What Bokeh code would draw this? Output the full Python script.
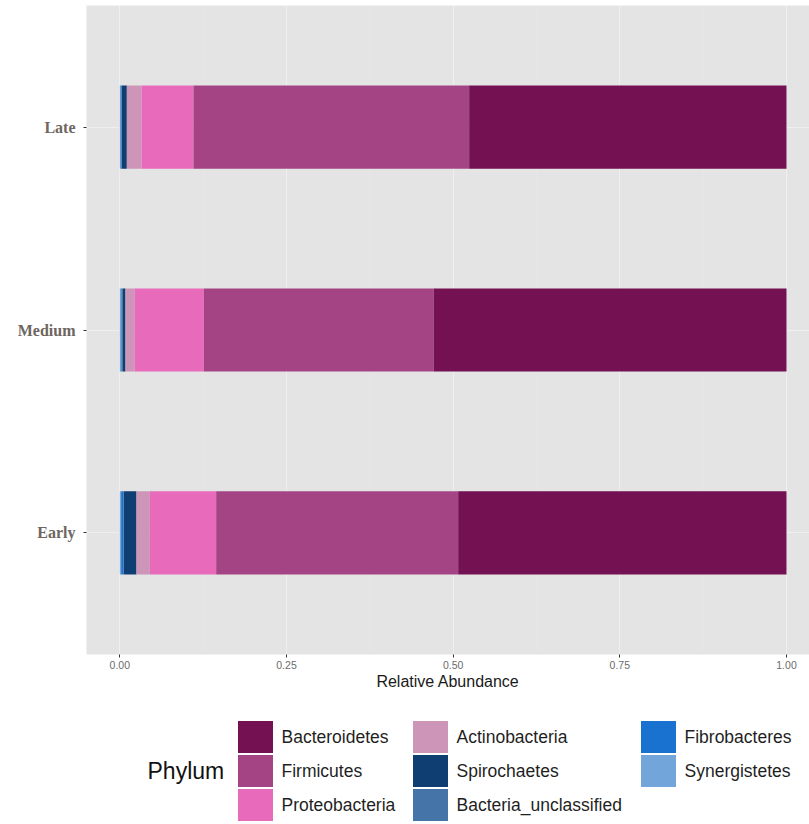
from bokeh.plotting import figure
from bokeh.layouts import column
from bokeh.models import Range1d, FixedTicker, ColumnDataSource
from bokeh.core.properties import value
from bokeh.embed import file_html
from bokeh.resources import INLINE

# ---- data ----
stages = ["Early", "Medium", "Late"]
phyla = ["Bacteroidetes", "Firmicutes", "Proteobacteria", "Actinobacteria",
         "Spirochaetes", "Bacteria_unclassified", "Fibrobacteres", "Synergistetes"]
colors = ["#741152", "#a54484", "#e86abb", "#cd95b8",
          "#0f3e73", "#4474a8", "#1a72d0", "#72a6da"]

Bacteroidetes = [0.4925, 0.5290, 0.4760]
Firmicutes = [0.3630, 0.3450, 0.4135]
Proteobacteria = [0.0995, 0.1040, 0.0780]
Actinobacteria = [0.0200, 0.0135, 0.0220]
Spirochaetes = [0.0190, 0.0045, 0.0075]
Bacteria_unclassified = [0.0010, 0.0015, 0.0010]
Fibrobacteres = [0.0030, 0.0010, 0.0010]
Synergistetes = [0.0020, 0.0015, 0.0010]

series = {
    "Bacteroidetes": Bacteroidetes, "Firmicutes": Firmicutes,
    "Proteobacteria": Proteobacteria, "Actinobacteria": Actinobacteria,
    "Spirochaetes": Spirochaetes, "Bacteria_unclassified": Bacteria_unclassified,
    "Fibrobacteres": Fibrobacteres, "Synergistetes": Synergistetes,
}

ypos = [i + 1 for i in range(len(stages))]

p = figure(width=809, height=692, output_backend="svg", toolbar_location=None,
           x_range=Range1d(-0.05, 1.0345), y_range=Range1d(0.4, 3.6),
           min_border_left=86, min_border_top=5, min_border_right=0, min_border_bottom=38)
p.background_fill_color = "#e4e4e4"
p.border_fill_color = "white"
p.outline_line_color = None

# stack: last phylum at 0, first phylum at the far right (ggplot order)
src = ColumnDataSource(dict(y=ypos, **series))
stack_order = phyla[::-1]
color_for = dict(zip(phyla, colors))
p.hbar_stack(stack_order, y="y", height=0.41, source=src,
             color=[color_for[k] for k in stack_order], line_width=0)

# grid
p.xgrid.ticker = FixedTicker(ticks=[0, 0.25, 0.5, 0.75, 1.0],
                             minor_ticks=[0.125, 0.375, 0.625, 0.875])
p.xgrid.grid_line_color = "#efefef"
p.xgrid.grid_line_width = 1
p.xgrid.minor_grid_line_color = "#e9e9e9"
p.xgrid.minor_grid_line_width = 0.5
p.ygrid.ticker = FixedTicker(ticks=ypos)
p.ygrid.grid_line_color = "#efefef"
p.ygrid.grid_line_width = 1

# x axis
p.xaxis.ticker = FixedTicker(ticks=[0, 0.25, 0.5, 0.75, 1.0])
p.xaxis.major_label_overrides = {0: "0.00", 0.25: "0.25", 0.5: "0.50", 0.75: "0.75", 1.0: "1.00"}
p.xaxis.axis_label = "Relative Abundance"
p.xaxis.axis_label_text_font = "Liberation Sans"
p.xaxis.axis_label_text_font_style = "normal"
p.xaxis.axis_label_text_font_size = "16px"
p.xaxis.axis_label_text_color = "#1a1a1a"
p.xaxis.axis_label_standoff = 1
p.xaxis.major_label_text_font = "Liberation Sans"
p.xaxis.major_label_text_font_size = "10.5px"
p.xaxis.major_label_text_color = "#6b6b6b"
p.xaxis.major_label_standoff = 3
p.xaxis.axis_line_color = None
p.xaxis.major_tick_line_color = "#333333"
p.xaxis.major_tick_out = 3
p.xaxis.major_tick_in = 0
p.xaxis.minor_tick_line_color = None

# y axis
p.yaxis.ticker = FixedTicker(ticks=ypos)
p.yaxis.major_label_overrides = {y: s for y, s in zip(ypos, stages)}
p.yaxis.major_label_text_font = "Liberation Serif"
p.yaxis.major_label_text_font_style = "bold"
p.yaxis.major_label_text_font_size = "16px"
p.yaxis.major_label_text_color = "#6e6660"
p.yaxis.major_label_standoff = 8
p.yaxis.axis_line_color = None
p.yaxis.major_tick_line_color = "#333333"
p.yaxis.major_tick_out = 3
p.yaxis.major_tick_in = 0
p.yaxis.minor_tick_line_color = None

# ---- legend (separate panel; its frame is aligned with the main frame) ----
LH = 824 - 692
lg = figure(width=809, height=LH, output_backend="svg", toolbar_location=None,
            x_range=Range1d(86, 809), y_range=Range1d(LH, 0),
            min_border=0)
lg.axis.visible = False
lg.grid.visible = False
lg.outline_line_color = None
lg.background_fill_color = "white"

col_key_x = [237, 412, 640]
row_y0 = 28
row_h = 34
kx, ky, lx, ly, kc, labs = [], [], [], [], [], []
for i, (name, c) in enumerate(zip(phyla, colors)):
    ci, ri = i // 3, i % 3
    kx.append(col_key_x[ci] + 18)
    ky.append(row_y0 + ri * row_h + 16.5)
    lx.append(col_key_x[ci] + 44)
    ly.append(row_y0 + ri * row_h + 16.5)
    kc.append(c)
    labs.append(name)

lsrc = ColumnDataSource(dict(kx=kx, ky=ky, lx=lx, ly=ly, c=kc, t=labs))
lg.rect(x="kx", y="ky", width=35, height=32, source=lsrc, fill_color="c", line_color=None)
lg.text(x="lx", y="ly", text="t", source=lsrc, text_font=value("Liberation Sans"),
        text_font_size="17.5px", text_baseline="middle", text_color="#1f1f1f")
lg.text(x=[147], y=[row_y0 + row_h + 16.5], text=["Phylum"], text_font=value("Liberation Sans"),
        text_font_size="23px", text_baseline="middle", text_color="#111111")

layout = column(p, lg, spacing=0)
open("out.html", "w").write(file_html(layout, INLINE))
